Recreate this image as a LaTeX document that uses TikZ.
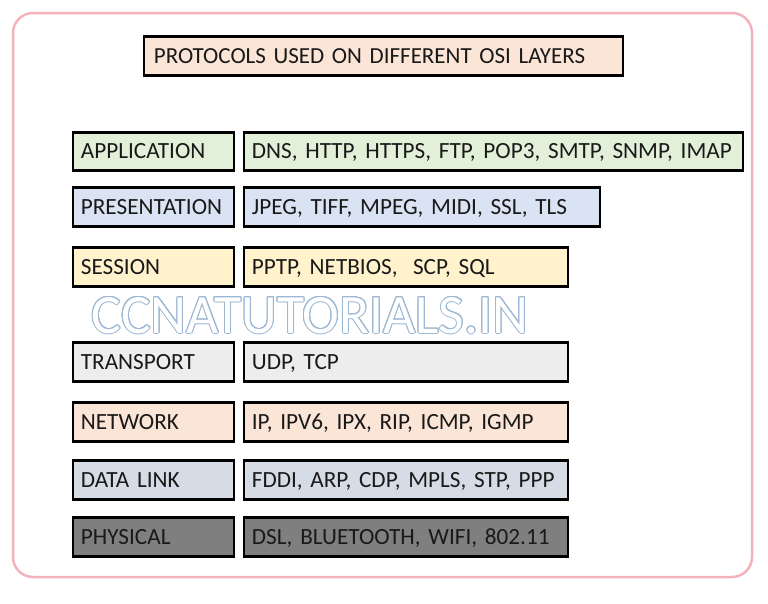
\documentclass[tikz,border=0pt]{standalone}
\usepackage{fontspec}
\setmainfont{Carlito}
\usepackage[copies]{contour}
\usepackage{tikz}

\definecolor{framepink}{HTML}{F2B3BD}
\definecolor{titlefill}{HTML}{FBE5D6}
\definecolor{appfill}{HTML}{E2F0D9}
\definecolor{presfill}{HTML}{DAE3F3}
\definecolor{sessfill}{HTML}{FFF2CC}
\definecolor{transfill}{HTML}{EDEDED}
\definecolor{netfill}{HTML}{FBE5D6}
\definecolor{linkfill}{HTML}{D6DCE5}
\definecolor{physfill}{HTML}{7F7F7F}
\definecolor{markblue}{HTML}{9DB8D4}

\begin{document}
\begin{tikzpicture}[x=1pt,y=1pt]

\tikzstyle{box}=[rectangle,draw=black,line width=2.8pt,anchor=west,align=left,inner xsep=8pt,minimum height=38.5pt,text height=14.8pt,text depth=0pt,text=black!90,font=\fontsize{23.2}{25}\selectfont]
\tikzstyle{layer}=[box,text width=145pt]
\tikzstyle{wide}=[box,text width=483pt]
\tikzstyle{mid}=[box,text width=340pt]
\tikzstyle{short}=[box,text width=308pt]

\useasboundingbox (0,0) rectangle (768,-603);
\draw[draw=framepink,line width=2.5pt,rounded corners=20pt] (13,-13) rectangle (752,-577);

\node[box,fill=titlefill,text width=459pt,inner xsep=10pt,font=\fontsize{23}{25}\selectfont] (title) at (142.5,-56) {PROTOCOLS USED ON DIFFERENT OSI LAYERS};

\node[layer,fill=appfill] (application) at (71.5,-151.5) {APPLICATION};
\node[wide,fill=appfill] (appprot) at (242.5,-151.5) {DNS, HTTP, HTTPS, FTP, POP3, SMTP, SNMP, IMAP};

\node[layer,fill=presfill] (presentation) at (71.5,-207) {PRESENTATION};
\node[mid,fill=presfill] (presprot) at (242.5,-207) {JPEG, TIFF, MPEG, MIDI, SSL, TLS};

\node[layer,fill=sessfill] (session) at (71.5,-267) {SESSION};
\node[short,fill=sessfill] (sessprot) at (242.5,-267) {PPTP, NETBIOS,\ \ SCP, SQL};

\node[text=white,text height=36pt,text depth=0pt,font=\fontsize{55.5}{58}\selectfont] (mark) at (310,-315) {\contourlength{1pt}\contour{markblue}{CCNATUTORIALS.IN}};

\node[layer,fill=transfill] (transport) at (71.5,-362) {TRANSPORT};
\node[short,fill=transfill] (transprot) at (242.5,-362) {UDP, TCP};

\node[layer,fill=netfill] (network) at (71.5,-422) {NETWORK};
\node[short,fill=netfill] (netprot) at (242.5,-422) {IP, IPV6, IPX, RIP, ICMP, IGMP};

\node[layer,fill=linkfill] (datalink) at (71.5,-480) {DATA LINK};
\node[short,fill=linkfill] (linkprot) at (242.5,-480) {FDDI, ARP, CDP, MPLS, STP, PPP};

\node[layer,fill=physfill] (physical) at (71.5,-537) {PHYSICAL};
\node[short,fill=physfill] (physprot) at (242.5,-537) {DSL, BLUETOOTH, WIFI, 802.11};
\end{tikzpicture}
\end{document}
